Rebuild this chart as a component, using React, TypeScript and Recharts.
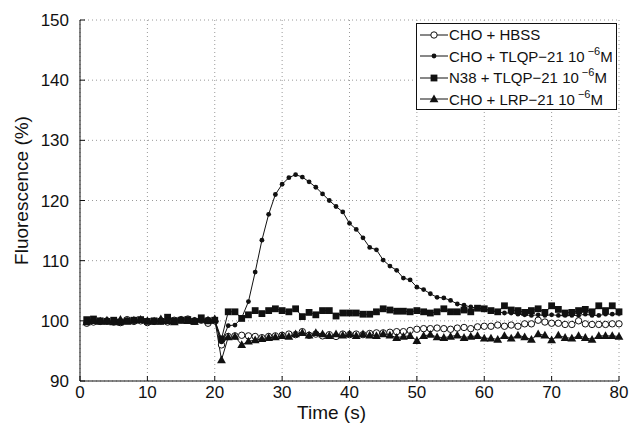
import { LineChart, Line, XAxis, YAxis, CartesianGrid, Legend } from "recharts";

const time = [
  1, 2, 3, 4, 5, 6, 7, 8, 9, 10, 11, 12, 13, 14, 15, 16, 17, 18, 19, 20,
  21, 22, 23, 24, 25, 26, 27, 28, 29, 30, 31, 32, 33, 34, 35, 36, 37, 38, 39, 40,
  41, 42, 43, 44, 45, 46, 47, 48, 49, 50, 51, 52, 53, 54, 55, 56, 57, 58, 59, 60,
  61, 62, 63, 64, 65, 66, 67, 68, 69, 70, 71, 72, 73, 74, 75, 76, 77, 78, 79, 80,
];

const choHbss = [
  99.6, 99.8, 99.9, 100.0, 99.8, 99.7, 100.2, 99.9, 100.0, 99.7, 99.9, 100.0, 99.8, 100.1, 100.2, 100.3, 100.0, 100.1, 99.6, 100.0,
  96.0, 97.4, 97.5, 97.6, 97.5, 97.4, 97.2, 97.4, 97.5, 97.6,
  97.8, 97.7, 98.2, 97.6, 97.8, 97.5, 97.7, 97.4, 97.8, 97.7,
  97.8, 97.7, 97.9, 98.0, 98.0, 98.1, 98.2, 98.2, 98.4, 98.6,
  98.7, 98.7, 98.8, 98.7, 98.6, 98.8, 98.9, 98.7, 99.0, 99.1,
  99.1, 99.3, 99.1, 99.3, 99.1, 99.5, 99.5, 100.1, 99.8, 99.6,
  99.6, 99.4, 99.4, 100.0, 99.5, 99.4, 99.4, 99.4, 99.5, 99.5,
];

const choTlqp = [
  100.0, 99.9, 100.1, 99.8, 99.9, 100.0, 100.1, 99.9, 100.2, 99.8, 100.0, 100.1, 99.9, 100.0, 100.1, 99.9, 100.2, 100.0, 100.3, 100.1,
  96.5, 99.2, 99.3, 100.5, 103.2, 108.1, 113.4, 117.7, 121.0, 122.7,
  123.8, 124.3, 123.9, 123.1, 122.2, 121.1, 120.0, 119.0, 118.1, 116.2,
  115.2, 113.8, 112.2, 111.8, 110.1, 109.1, 108.4, 107.1, 106.8, 105.6,
  105.2, 104.5, 103.9, 103.8, 103.4, 102.8, 102.6, 102.3, 102.1, 101.9,
  101.7, 101.5, 101.3, 101.3, 101.1, 101.0, 100.9, 101.0, 100.9, 101.0,
  100.9, 100.9, 100.9, 100.9, 101.1, 100.9, 100.9, 101.1, 101.1, 101.2,
];

const n38Tlqp = [
  100.2, 100.3, 100.0, 99.9, 100.1, 99.8, 100.0, 100.1, 100.2, 99.9, 100.0, 99.9, 100.6, 100.0, 100.1, 100.2, 99.9, 100.5, 100.0, 100.1,
  97.0, 101.5, 101.5, 100.4, 101.0, 101.7, 101.2, 101.7, 102.0, 101.7,
  101.5, 102.0, 100.7, 101.4, 101.0, 101.7, 101.7, 100.8, 101.3, 101.3,
  101.3, 101.1, 101.1, 101.5, 102.0, 101.8, 101.6, 101.6, 101.5, 101.7,
  101.5, 101.3, 101.5, 102.0, 101.5, 101.5, 101.8, 101.5, 102.1, 102.0,
  101.7, 101.5, 102.5, 101.8, 101.7, 101.4, 101.7, 102.0, 101.4, 102.5,
  101.9, 101.3, 101.4, 101.7, 101.9, 101.5, 102.5, 101.7, 102.5, 101.5,
];

const choLrp = [
  99.8, 100.0, 99.9, 100.1, 99.8, 100.2, 99.9, 100.1, 100.2, 100.0, 99.9, 100.3, 100.0, 99.8, 100.1, 100.0, 99.9, 100.2, 100.1, 100.3,
  93.5, 97.3, 97.4, 96.0, 96.6, 96.8, 97.0, 97.2, 97.3, 97.5,
  97.4, 97.8, 98.0, 97.6, 98.0, 97.8, 97.5, 97.8, 97.6, 97.8,
  97.5, 97.8, 97.6, 97.5, 97.8, 97.6, 97.2, 97.4, 97.5, 96.7,
  97.5, 97.7, 97.3, 97.2, 97.4, 97.6, 97.2, 97.4, 97.5, 97.1,
  97.1, 96.9, 97.5, 97.1, 97.6, 97.3, 96.9, 97.8, 97.6, 96.8,
  97.6, 97.2, 97.1, 97.5, 97.2, 96.9, 97.5, 97.5, 97.5, 97.4,
];

const xTicks = [0, 10, 20, 30, 40, 50, 60, 70, 80];
const yTicks = [90, 100, 110, 120, 130, 140, 150];

const data = time.map((t, i) => ({
  t,
  hbss: choHbss[i],
  tlqp: choTlqp[i],
  n38: n38Tlqp[i],
  lrp: choLrp[i],
}));

const FONT = "'Liberation Sans', Arial, Helvetica, sans-serif";

type Marker = "circle" | "dot" | "square" | "triangle";

function markerShape(kind: Marker, cx: number, cy: number, key?: string | number) {
  if (kind === "circle") {
    return <circle key={key} cx={cx} cy={cy} r={3.2} fill="#fff" stroke="#111" strokeWidth={1} />;
  }
  if (kind === "dot") {
    return <circle key={key} cx={cx} cy={cy} r={2.4} fill="#111" />;
  }
  if (kind === "square") {
    return <rect key={key} x={cx - 3.4} y={cy - 3.4} width={6.8} height={6.8} fill="#111" />;
  }
  return (
    <polygon
      key={key}
      points={`${cx},${cy - 4.6} ${cx - 4.4},${cy + 3.2} ${cx + 4.4},${cy + 3.2}`}
      fill="#111"
    />
  );
}

const makeDot = (kind: Marker) => (props: any) => {
  const { cx, cy, index } = props;
  if (cx == null || cy == null) return <g key={`${kind}-${index}`} />;
  return markerShape(kind, cx, cy, `${kind}-${index}`);
};

const legendRows: Array<{ kind: Marker; main: string; sup?: string }> = [
  { kind: "circle", main: "CHO + HBSS" },
  { kind: "dot", main: "CHO + TLQP\u221221 10", sup: "\u22126" },
  { kind: "square", main: "N38 + TLQP\u221221 10", sup: "\u22126" },
  { kind: "triangle", main: "CHO + LRP\u221221 10", sup: "\u22126" },
];

function LegendBox() {
  return (
    <div
      style={{
        border: "1px solid #111",
        background: "#fff",
        width: 199,
        height: 85,
        boxSizing: "content-box",
        fontFamily: FONT,
        fontSize: 15,
        color: "#111",
      }}
    >
      {legendRows.map((row) => (
        <div key={row.main} style={{ display: "flex", alignItems: "center", height: 21.5, whiteSpace: "nowrap" }}>
          <svg width={32} height={12} style={{ flex: "none" }}>
            <line x1={3} y1={6} x2={31} y2={6} stroke="#111" strokeWidth={1} />
            {markerShape(row.kind, 17, 6)}
          </svg>
          <span>
            {row.main}
            {row.sup && (
              <>
                <span style={{ fontSize: 11, position: "relative", top: -7, marginLeft: 3 }}>{row.sup}</span>
                M
              </>
            )}
          </span>
        </div>
      ))}
    </div>
  );
}

export default function App() {
  return (
    <div style={{ position: "absolute", left: 0, top: 0, width: 630, height: 433, background: "#fff" }}>
      <LineChart
        width={630}
        height={433}
        data={data}
        margin={{ top: 20, right: 11, bottom: 22, left: 20 }}
        style={{ fontFamily: FONT }}
      >
        <CartesianGrid stroke="#9a9a9a" strokeDasharray="1 3" />
        <XAxis
          dataKey="t"
          type="number"
          domain={[0, 80]}
          ticks={xTicks}
          height={30}
          tickSize={-5}
          tickMargin={10}
          stroke="#111"
          tick={{ fill: "#111", fontSize: 17 }}
          label={{
            content: (p: any) => {
              const vb = p.viewBox;
              return (
                <text x={vb.x + vb.width / 2 - 18} y={vb.y + 38} textAnchor="middle" fontSize={19} fill="#111" fontFamily={FONT}>
                  Time (s)
                </text>
              );
            },
          }}
        />
        <XAxis
          xAxisId="top"
          orientation="top"
          type="number"
          domain={[0, 80]}
          ticks={xTicks}
          height={0}
          tickSize={-5}
          tick={false}
          stroke="#111"
        />
        <YAxis
          type="number"
          domain={[90, 150]}
          ticks={yTicks}
          width={60}
          tickSize={-5}
          tickMargin={16}
          stroke="#111"
          tick={{ fill: "#111", fontSize: 17 }}
          label={{
            content: (p: any) => {
              const vb = p.viewBox;
              const cx = vb.x + 1;
              const cy = vb.y + vb.height / 2 - 10;
              return (
                <text
                  x={cx}
                  y={cy}
                  transform={`rotate(-90, ${cx}, ${cy})`}
                  textAnchor="middle"
                  dominantBaseline="central"
                  fontSize={19}
                  fill="#111"
                  fontFamily={FONT}
                >
                  Fluorescence (%)
                </text>
              );
            },
          }}
        />
        <YAxis
          yAxisId="right"
          orientation="right"
          type="number"
          domain={[90, 150]}
          ticks={yTicks}
          width={0}
          tickSize={-5}
          tick={false}
          stroke="#111"
        />
        <Legend
          layout="horizontal"
          verticalAlign="middle"
          align="center"
          content={() => <LegendBox />}
          wrapperStyle={{ position: "absolute", left: 416, top: 23, width: 201, height: 87 }}
        />
        <Line dataKey="hbss" stroke="#111" strokeWidth={1} dot={makeDot("circle")} isAnimationActive={false} />
        <Line dataKey="tlqp" stroke="#111" strokeWidth={1} dot={makeDot("dot")} isAnimationActive={false} />
        <Line dataKey="n38" stroke="#111" strokeWidth={1} dot={makeDot("square")} isAnimationActive={false} />
        <Line dataKey="lrp" stroke="#111" strokeWidth={1} dot={makeDot("triangle")} isAnimationActive={false} />
      </LineChart>
    </div>
  );
}
